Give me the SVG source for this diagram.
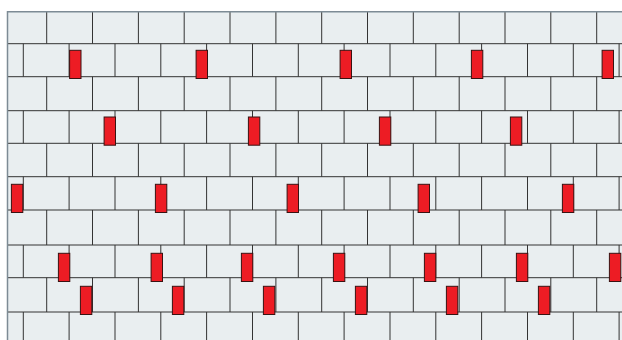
<svg xmlns="http://www.w3.org/2000/svg" width="622" height="340" viewBox="0 0 622 340">
  <style>
    .wall { fill: #e9eef0; }
    .joint { fill: none; stroke: #333; stroke-width: 1; }
    .edge { fill: none; stroke: #7d8b95; stroke-width: 1.5; }
    .tie { fill: #ed1c24; stroke: #3a1212; stroke-width: 1; }
  </style>
  <rect width="622" height="340" fill="#ffffff"/>
  <rect class="wall" x="7" y="12" width="615" height="328"/>
  <g id="bed-joints" class="joint">
    <path d="M7 43.7H622M7 76.7H622M7 110.7H622M7 143.3H622M7 176.7H622M7 210H622M7 245H622M7 277.7H622M7 312H622"/>
  </g>
  <g id="head-joints" class="joint">
    <path d="M46.7 12V43.7M92.5 12V43.7M138.4 12V43.7M184.2 12V43.7M230 12V43.7M275.9 12V43.7M321.7 12V43.7M367.5 12V43.7M413.3 12V43.7M459.2 12V43.7M505 12V43.7M550.8 12V43.7M596.7 12V43.7"/>
    <path d="M23.3 43.7V76.7M69.1 43.7V76.7M115 43.7V76.7M160.8 43.7V76.7M206.6 43.7V76.7M252.5 43.7V76.7M298.3 43.7V76.7M344.1 43.7V76.7M390 43.7V76.7M435.8 43.7V76.7M481.6 43.7V76.7M527.5 43.7V76.7M573.3 43.7V76.7M619.1 43.7V76.7"/>
    <path d="M46.7 76.7V110.7M92.5 76.7V110.7M138.4 76.7V110.7M184.2 76.7V110.7M230 76.7V110.7M275.9 76.7V110.7M321.7 76.7V110.7M367.5 76.7V110.7M413.3 76.7V110.7M459.2 76.7V110.7M505 76.7V110.7M550.8 76.7V110.7M596.7 76.7V110.7"/>
    <path d="M23.3 110.7V143.3M69.1 110.7V143.3M115 110.7V143.3M160.8 110.7V143.3M206.6 110.7V143.3M252.5 110.7V143.3M298.3 110.7V143.3M344.1 110.7V143.3M390 110.7V143.3M435.8 110.7V143.3M481.6 110.7V143.3M527.5 110.7V143.3M573.3 110.7V143.3M619.1 110.7V143.3"/>
    <path d="M46.7 143.3V176.7M92.5 143.3V176.7M138.4 143.3V176.7M184.2 143.3V176.7M230 143.3V176.7M275.9 143.3V176.7M321.7 143.3V176.7M367.5 143.3V176.7M413.3 143.3V176.7M459.2 143.3V176.7M505 143.3V176.7M550.8 143.3V176.7M596.7 143.3V176.7"/>
    <path d="M23.3 176.7V210M69.1 176.7V210M115 176.7V210M160.8 176.7V210M206.6 176.7V210M252.5 176.7V210M298.3 176.7V210M344.1 176.7V210M390 176.7V210M435.8 176.7V210M481.6 176.7V210M527.5 176.7V210M573.3 176.7V210M619.1 176.7V210"/>
    <path d="M46.7 210V245M92.5 210V245M138.4 210V245M184.2 210V245M230 210V245M275.9 210V245M321.7 210V245M367.5 210V245M413.3 210V245M459.2 210V245M505 210V245M550.8 210V245M596.7 210V245"/>
    <path d="M23.3 245V277.7M69.1 245V277.7M115 245V277.7M160.8 245V277.7M206.6 245V277.7M252.5 245V277.7M298.3 245V277.7M344.1 245V277.7M390 245V277.7M435.8 245V277.7M481.6 245V277.7M527.5 245V277.7M573.3 245V277.7M619.1 245V277.7"/>
    <path d="M46.7 277.7V312M92.5 277.7V312M138.4 277.7V312M184.2 277.7V312M230 277.7V312M275.9 277.7V312M321.7 277.7V312M367.5 277.7V312M413.3 277.7V312M459.2 277.7V312M505 277.7V312M550.8 277.7V312M596.7 277.7V312"/>
    <path d="M23.3 312V340M69.1 312V340M115 312V340M160.8 312V340M206.6 312V340M252.5 312V340M298.3 312V340M344.1 312V340M390 312V340M435.8 312V340M481.6 312V340M527.5 312V340M573.3 312V340M619.1 312V340"/>
  </g>
  <g id="wall-edge" class="edge">
    <path d="M7.5 340V11.8H622"/>
  </g>
  <g id="ties" class="tie">
    <rect x="69.6" y="50.3" width="11.4" height="28.2"/>
    <rect x="196.1" y="50.3" width="11.4" height="28.2"/>
    <rect x="340.1" y="50.3" width="11.4" height="28.2"/>
    <rect x="471.4" y="50.3" width="11.4" height="28.2"/>
    <rect x="602.1" y="50.3" width="11.4" height="28.2"/>

    <rect x="104.1" y="117" width="11.4" height="28.2"/>
    <rect x="248.4" y="117" width="11.4" height="28.2"/>
    <rect x="379.4" y="117" width="11.4" height="28.2"/>
    <rect x="510.4" y="117" width="11.4" height="28.2"/>

    <rect x="11.4" y="184.3" width="11.4" height="28.2"/>
    <rect x="155.4" y="184.3" width="11.4" height="28.2"/>
    <rect x="287.1" y="184.3" width="11.4" height="28.2"/>
    <rect x="418.1" y="184.3" width="11.4" height="28.2"/>
    <rect x="562.4" y="184.3" width="11.4" height="28.2"/>

    <rect x="58.4" y="253.3" width="11.4" height="28.2"/>
    <rect x="151.1" y="253.3" width="11.4" height="28.2"/>
    <rect x="241.4" y="253.3" width="11.4" height="28.2"/>
    <rect x="333.4" y="253.3" width="11.4" height="28.2"/>
    <rect x="424.4" y="253.3" width="11.4" height="28.2"/>
    <rect x="516.4" y="253.3" width="11.4" height="28.2"/>
    <rect x="609.4" y="253.3" width="11.4" height="28.2"/>

    <rect x="80.4" y="286.3" width="11.4" height="28.2"/>
    <rect x="172.4" y="286.3" width="11.4" height="28.2"/>
    <rect x="263.4" y="286.3" width="11.4" height="28.2"/>
    <rect x="355.4" y="286.3" width="11.4" height="28.2"/>
    <rect x="446.4" y="286.3" width="11.4" height="28.2"/>
    <rect x="538.4" y="286.3" width="11.4" height="28.2"/>
  </g>
</svg>
